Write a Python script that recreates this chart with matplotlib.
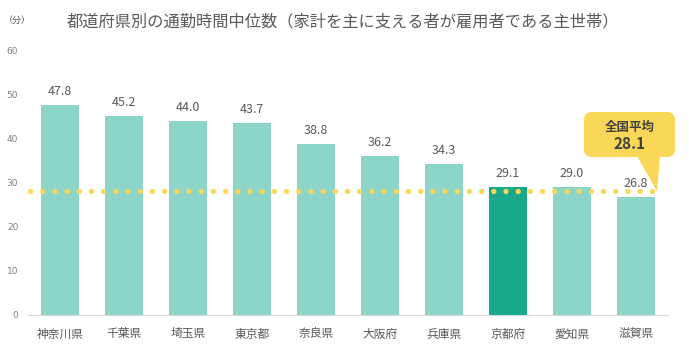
import numpy as np
import matplotlib.pyplot as plt
from matplotlib.patches import FancyBboxPatch, Polygon
from matplotlib.transforms import IdentityTransform

plt.rcParams['font.family'] = ['Noto Sans CJK JP', 'DejaVu Sans']

prefs = ['神奈川県', '千葉県', '埼玉県', '東京都', '奈良県', '大阪府', '兵庫県', '京都府', '愛知県', '滋賀県']
minutes = [47.8, 45.2, 44.0, 43.7, 38.8, 36.2, 34.3, 29.1, 29.0, 26.8]
national_avg = 28.1
highlight = '京都府'

light = '#8DD5C8'
dark = '#17A98A'
grey = '#595959'
yellow = '#FBD757'

fig = plt.figure(figsize=(6.89, 3.53), dpi=100)
ax = fig.add_axes([28/689, 38/353, 640/689, 264/353])

x = np.arange(len(prefs))
colors = [dark if p == highlight else light for p in prefs]
ax.bar(x, minutes, width=0.58, color=colors, zorder=2)

for xi, v in zip(x, minutes):
    ax.annotate(f'{v:.1f}', (xi, v), xytext=(0, 5), textcoords='offset points',
                ha='center', va='bottom', fontsize=9, color=grey)

ax.set_xlim(-0.5, len(prefs) - 0.5)
ax.set_ylim(0, 60)
ax.set_yticks(range(0, 61, 10))
ax.set_xticks(x)
ax.set_xticklabels(prefs)
ax.tick_params(axis='y', length=0, labelsize=6.5, labelcolor='#7f7f7f', pad=7)
ax.tick_params(axis='x', length=0, labelsize=8.5, labelcolor=grey, pad=9)
for lab in ax.get_yticklabels():
    lab.set_family(['DejaVu Sans'])
for s in ['top', 'right', 'left']:
    ax.spines[s].set_visible(False)
ax.spines['bottom'].set_color('#d9d9d9')

# dotted national average line
line_end = len(prefs) - 0.67
ax.plot([-0.47, line_end], [national_avg, national_avg], color=yellow,
        linewidth=3.8, linestyle=(0, (0.01, 2.3)), dash_capstyle='round', zorder=3)

# callout
tip = ax.transData.transform((line_end, national_avg))
box = FancyBboxPatch((584, 353 - 157), 91, 45, boxstyle='round,pad=0,rounding_size=8',
                     transform=IdentityTransform(), facecolor=yellow, edgecolor='none',
                     zorder=5, clip_on=False)
fig.patches.append(box)
tail = Polygon([(637, 353 - 156), (660, 353 - 156), tip], closed=True,
               transform=IdentityTransform(), facecolor=yellow, edgecolor='none', clip_on=False)
fig.patches.append(tail)
fig.text(630/689, 1 - 127/353, '全国平均', ha='center', va='center', fontsize=9,
         fontweight='bold', color='#404040', zorder=6)
fig.text(630/689, 1 - 144/353, f'{national_avg:.1f}', ha='center', va='center', fontsize=11,
         fontweight='bold', color='#404040', zorder=6)

fig.text(343/689, 1 - 22/353, '都道府県別の通勤時間中位数（家計を主に支える者が雇用者である主世帯）',
         ha='center', va='center', fontsize=11.7, color=grey)
fig.text(17/689, 1 - 20/353, '（分）', ha='center', va='center', fontsize=6.5, color=grey)

fig.savefig('out.png', dpi=100)
